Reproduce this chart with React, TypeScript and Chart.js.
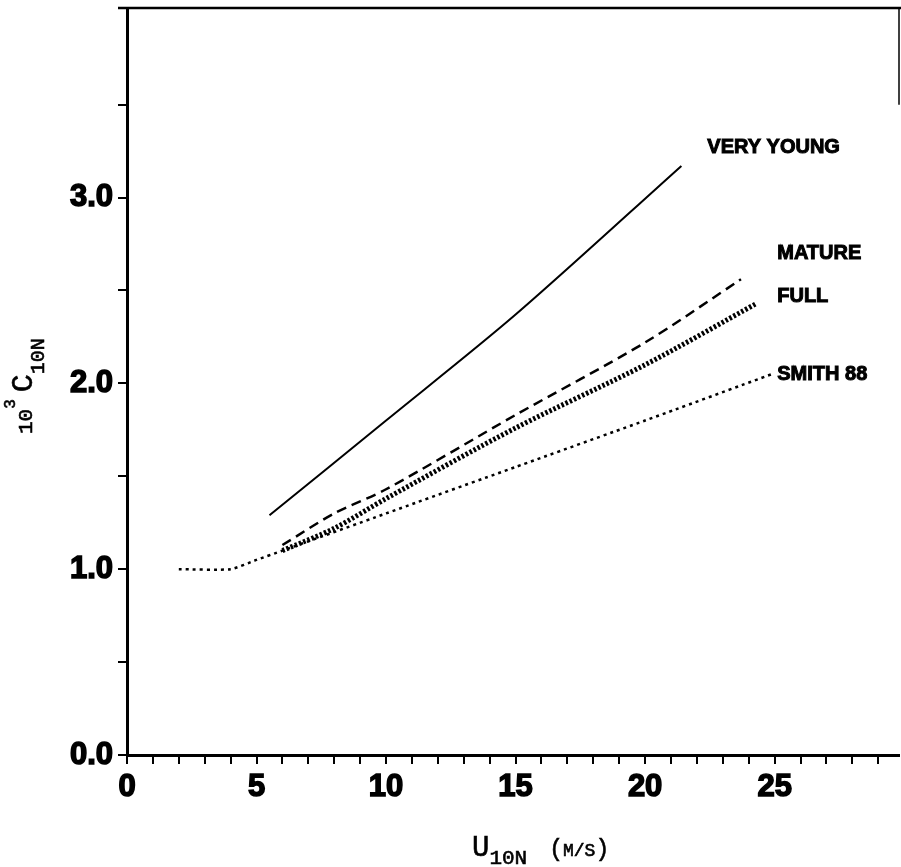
import React, { useEffect, useRef } from "react";
import { Chart, registerables } from "chart.js";
Chart.register(...registerables);

// ---- data ----
const veryYoungU = [5.5, 10, 15, 21.4];
const veryYoungC = [1.29, 1.8, 2.37, 3.17];
const matureU = [6, 8, 10, 15, 20, 23.7];
const matureC = [1.13, 1.3, 1.43, 1.83, 2.22, 2.56];
const fullU = [6, 8, 10, 15, 20, 24.3];
const fullC = [1.1, 1.22, 1.38, 1.76, 2.1, 2.43];
const smithU = [2, 4, 5, 6, 10, 15, 20, 24.9];
const smithC = [1.0, 1.0, 1.05, 1.1, 1.3, 1.55, 1.8, 2.05];

const curveNames = ["VERY YOUNG", "MATURE", "FULL", "SMITH 88"];
const labelU = [22.4, 25.1, 25.1, 25.1];
const labelC = [3.27, 2.7, 2.47, 2.05];

const xTickValues = [0, 1, 2, 3, 4, 5, 6, 7, 8, 9, 10, 11, 12, 13, 14, 15, 16, 17, 18, 19, 20, 21, 22, 23, 24, 25, 26, 27, 28, 29];
const xLabeledValues = [0, 5, 10, 15, 20, 25];
const xLabelTexts = ["0", "5", "10", "15", "20", "25"];
const yTickValues = [0, 0.5, 1, 1.5, 2, 2.5, 3, 3.5];
const yLabeledValues = [0, 1, 2, 3];
const yLabelTexts = ["0.0", "1.0", "2.0", "3.0"];

const X_MIN = 0;
const X_MAX = 29.8;
const Y_MIN = 0;
const Y_MAX = 4.02;

const W = 901;
const H = 867;

const toXY = (xs: number[], ys: number[]) => xs.map((x, i) => ({ x, y: ys[i] }));

type Seg = { t: string; size: number; dy: number; gap?: number };

function drawRich(ctx: CanvasRenderingContext2D, segs: Seg[], family: string) {
  let x = 0;
  for (const s of segs) {
    if (s.gap) {
      x += s.gap;
      continue;
    }
    ctx.font = `${s.size}px ${family}`;
    ctx.fillText(s.t, x, s.dy);
    ctx.lineWidth = 0.6;
    ctx.strokeText(s.t, x, s.dy);
    x += ctx.measureText(s.t).width;
  }
}

const decorPlugin = {
  id: "decor",
  afterDraw(chart: any) {
    const { ctx, chartArea, scales } = chart;
    const xs = scales.x;
    const ys = scales.y;
    ctx.save();
    // top frame line and partial right frame line
    ctx.strokeStyle = "#000";
    ctx.lineWidth = 2.5;
    ctx.beginPath();
    ctx.moveTo(118, chartArea.top);
    ctx.lineTo(W, chartArea.top);
    ctx.stroke();
    ctx.lineWidth = 1.5;
    ctx.beginPath();
    ctx.moveTo(chartArea.right, chartArea.top);
    ctx.lineTo(chartArea.right, ys.getPixelForValue(3.5));
    ctx.stroke();

    // curve labels
    ctx.fillStyle = "#000";
    ctx.strokeStyle = "#000";
    ctx.font = "bold 20px 'Liberation Sans', Arial, sans-serif";
    ctx.textAlign = "left";
    ctx.textBaseline = "middle";
    ctx.lineWidth = 1;
    curveNames.forEach((n, i) => {
      const px = xs.getPixelForValue(labelU[i]);
      const py = ys.getPixelForValue(labelC[i]);
      ctx.fillText(n, px, py);
      ctx.strokeText(n, px, py);
    });

    // axis titles
    const fam = "'Liberation Mono', 'DejaVu Sans Mono', monospace";
    ctx.textAlign = "left";
    ctx.textBaseline = "alphabetic";
    ctx.save();
    ctx.translate(472, 856);
    drawRich(
      ctx,
      [
        { t: "U", size: 29, dy: 0 },
        { t: "10N", size: 21, dy: 8 },
        { t: "", size: 0, dy: 0, gap: 22 },
        { t: "(", size: 23, dy: 0 },
        { t: "M/S", size: 18, dy: 0 },
        { t: ")", size: 23, dy: 0 },
      ],
      fam
    );
    ctx.restore();

    ctx.save();
    ctx.translate(32, 434);
    ctx.rotate(-Math.PI / 2);
    drawRich(
      ctx,
      [
        { t: "10", size: 21, dy: 0 },
        { t: "3", size: 16, dy: -17 },
        { t: "", size: 0, dy: 0, gap: 7 },
        { t: "C", size: 30, dy: 0 },
        { t: "10N", size: 20, dy: 12 },
      ],
      fam
    );
    ctx.restore();
    ctx.restore();
  },
};

export default function App() {
  const ref = useRef<HTMLCanvasElement | null>(null);
  useEffect(() => {
    if (!ref.current) return;
    const tickFont = { family: "'Liberation Sans', Arial, sans-serif", size: 31, weight: "bold" as const };
    const chart = new Chart(ref.current, {
      type: "line",
      data: {
        datasets: [
          {
            label: curveNames[0],
            data: toXY(veryYoungU, veryYoungC),
            borderColor: "#000",
            borderWidth: 2,
            pointRadius: 0,
            tension: 0.3,
          },
          {
            label: curveNames[1],
            data: toXY(matureU, matureC),
            borderColor: "#000",
            borderWidth: 2.5,
            borderDash: [10, 6],
            pointRadius: 0,
            tension: 0.3,
          },
          {
            label: curveNames[2],
            data: toXY(fullU, fullC),
            borderColor: "#000",
            borderWidth: 5,
            borderDash: [2.5, 2],
            pointRadius: 0,
            tension: 0.3,
          },
          {
            label: curveNames[3],
            data: toXY(smithU, smithC),
            borderColor: "#000",
            borderWidth: 2.5,
            borderDash: [3, 4],
            pointRadius: 0,
            tension: 0.2,
          },
        ],
      },
      options: {
        responsive: false,
        animation: false,
        parsing: true,
        layout: { padding: { top: 8, right: 2, left: 0, bottom: 0 } },
        plugins: { legend: { display: false }, tooltip: { enabled: false }, title: { display: false } },
        scales: {
          x: {
            type: "linear",
            min: X_MIN,
            max: X_MAX,
            afterFit: (s: any) => {
              s.height = H - 755;
              s.paddingLeft = 0;
              s.paddingRight = 0;
            },
            afterBuildTicks: (s: any) => {
              s.ticks = xTickValues.map((v) => ({ value: v }));
            },
            ticks: {
              autoSkip: false,
              maxRotation: 0,
              minRotation: 0,
              padding: 5,
              color: "#000",
              textStrokeColor: "#000",
              textStrokeWidth: 1.5,
              font: tickFont,
              callback: (v: any) => {
                const i = xLabeledValues.indexOf(Number(v));
                return i >= 0 ? xLabelTexts[i] : "";
              },
            },
            grid: { drawOnChartArea: false, drawTicks: true, tickLength: 9, color: "#000", lineWidth: 2 },
            border: { display: true, color: "#000", width: 3 },
          },
          y: {
            type: "linear",
            min: Y_MIN,
            max: Y_MAX,
            afterFit: (s: any) => {
              s.width = 127;
              s.paddingTop = 0;
              s.paddingBottom = 0;
            },
            afterBuildTicks: (s: any) => {
              s.ticks = yTickValues.map((v) => ({ value: v }));
            },
            ticks: {
              autoSkip: false,
              padding: 5,
              color: "#000",
              textStrokeColor: "#000",
              textStrokeWidth: 1.5,
              font: tickFont,
              callback: (v: any) => {
                const i = yLabeledValues.indexOf(Number(v));
                return i >= 0 ? yLabelTexts[i] : "";
              },
            },
            grid: { drawOnChartArea: false, drawTicks: true, tickLength: 9, color: "#000", lineWidth: 2 },
            border: { display: true, color: "#000", width: 3 },
          },
        },
      },
      plugins: [decorPlugin],
    } as any);
    return () => chart.destroy();
  }, []);
  return (
    <div style={{ position: "absolute", left: 0, top: 0, width: W, height: H, background: "#fff" }}>
      <canvas ref={ref} width={W} height={H} style={{ width: W, height: H, display: "block" }} />
    </div>
  );
}
